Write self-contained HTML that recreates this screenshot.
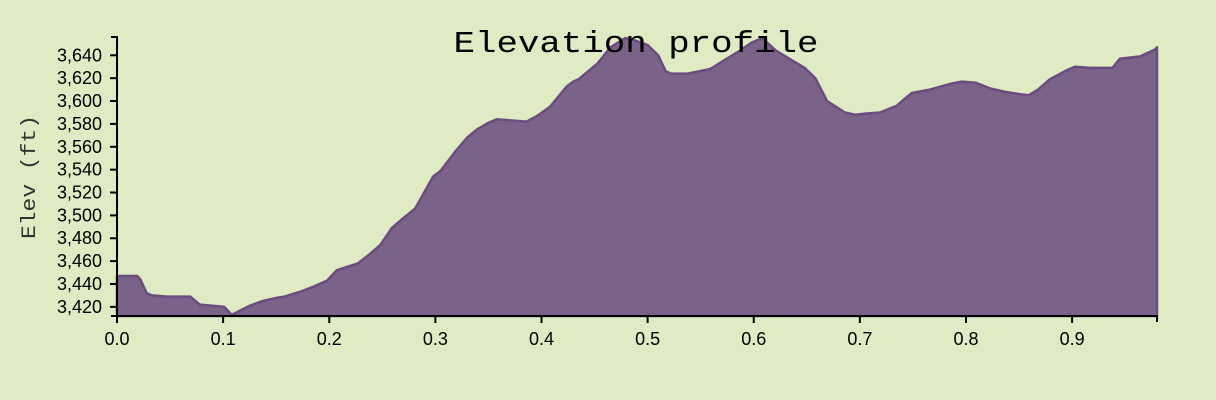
<!DOCTYPE html>
<html><head><meta charset="utf-8"><style>
html,body{margin:0;padding:0;background:#dfebc3;}
svg{display:block;}
.tick text{font-family:"Liberation Sans",sans-serif;font-size:18px;fill:#000;}
</style></head><body>
<svg id="chart" width="1216" height="400" xmlns="http://www.w3.org/2000/svg">
<rect width="1216" height="400" fill="#dfebc3"/>
<text transform="translate(35,177) rotate(-90)" text-anchor="middle" font-family="'Liberation Mono',monospace" font-size="20" textLength="124" lengthAdjust="spacingAndGlyphs" fill="#333">Elev (ft)</text>
<g id="plot"></g>
<text x="636" y="52" text-anchor="middle" font-family="'Liberation Mono',monospace" font-size="31" textLength="365" lengthAdjust="spacingAndGlyphs" fill="#000">Elevation profile</text>
</svg>
<script>
const distances=[0,.019,.022,.028,.033,.047,.069,.078,.090,.101,.108,.125,.137,.151,.158,.172,.186,.198,.207,.217,.227,.238,.248,.259,.269,.281,.298,.305,.319,.330,.339,.350,.358,.372,.386,.396,.408,.424,.430,.435,.453,.465,.479,.488,.500,.510,.517,.522,.538,.559,.571,.587,.598,.608,.621,.639,.648,.658,.669,.686,.696,.705,.719,.735,.741,.749,.766,.785,.796,.809,.823,.837,.851,.859,.868,.879,.895,.903,.917,.938,.945,.964,.978,.98];
const elevations=[3447,3447,3444,3432,3430,3429,3429,3422,3421,3420,3413,3421,3425,3428,3429,3433,3438,3443,3452,3455,3458,3466,3474,3489,3497,3506,3534,3539,3556,3568,3575,3581,3584,3583,3582,3587,3595,3613,3617,3619,3633,3647,3655,3653,3649,3640,3626,3624,3624,3628,3635,3644,3651,3655,3644,3634,3629,3620,3600,3590,3588,3589,3590,3596,3601,3607,3610,3615,3617,3616,3611,3608,3606,3605,3610,3619,3627,3630,3629,3629,3637,3639,3645,3647];
const xTicks=[0,0.1,0.2,0.3,0.4,0.5,0.6,0.7,0.8,0.9];
const yTicks=[3420,3440,3460,3480,3500,3520,3540,3560,3580,3600,3620,3640];
const xDomain=[0,0.98], yDomain=[3412,3656];
const L=117,R=1157,T=37,B=316;
const sx=v=>L+(v-xDomain[0])/(xDomain[1]-xDomain[0])*(R-L);
const sy=v=>B-(v-yDomain[0])/(yDomain[1]-yDomain[0])*(B-T);
const NS="http://www.w3.org/2000/svg";
const g=document.getElementById('plot');
function mk(t,a){const e=document.createElementNS(NS,t);for(const k in a)e.setAttribute(k,a[k]);return e;}
let d='M'+sx(distances[0])+','+B;
distances.forEach((x,i)=>{d+='L'+sx(x).toFixed(1)+','+sy(elevations[i]).toFixed(1);});
d+='L'+sx(distances[distances.length-1])+','+B+'Z';
const area=mk('path',{d:d,fill:'#7b6289',stroke:'#6a4c7e','stroke-width':2.5,'stroke-linejoin':'round'});


g.appendChild(area);
const xa=mk('g',{});


g.appendChild(xa);
xa.appendChild(mk('path',{d:`M${L},${B+6}V${B}H${R}V${B+6}`,stroke:'#000',fill:'none','stroke-width':2}));
xTicks.forEach(v=>{const t=mk('g',{class:'tick'});


t.appendChild(mk('line',{x1:sx(v),x2:sx(v),y1:B,y2:B+7,stroke:'#000','stroke-width':2}));
const tx=mk('text',{x:sx(v),y:B+29,'text-anchor':'middle'});tx.textContent=v.toFixed(1);t.appendChild(tx);xa.appendChild(t);});
const ya=mk('g',{});


g.appendChild(ya);
ya.appendChild(mk('path',{d:`M${L-6},${T}H${L}V${B}H${L-6}`,stroke:'#000',fill:'none','stroke-width':2}));
yTicks.forEach(v=>{const t=mk('g',{class:'tick'});


t.appendChild(mk('line',{x1:L-7,x2:L,y1:sy(v),y2:sy(v),stroke:'#000','stroke-width':2}));
const tx=mk('text',{x:L-15,y:sy(v)+6,'text-anchor':'end'});tx.textContent=v.toLocaleString('en-US');t.appendChild(tx);ya.appendChild(t);});
</script>
</body></html>
